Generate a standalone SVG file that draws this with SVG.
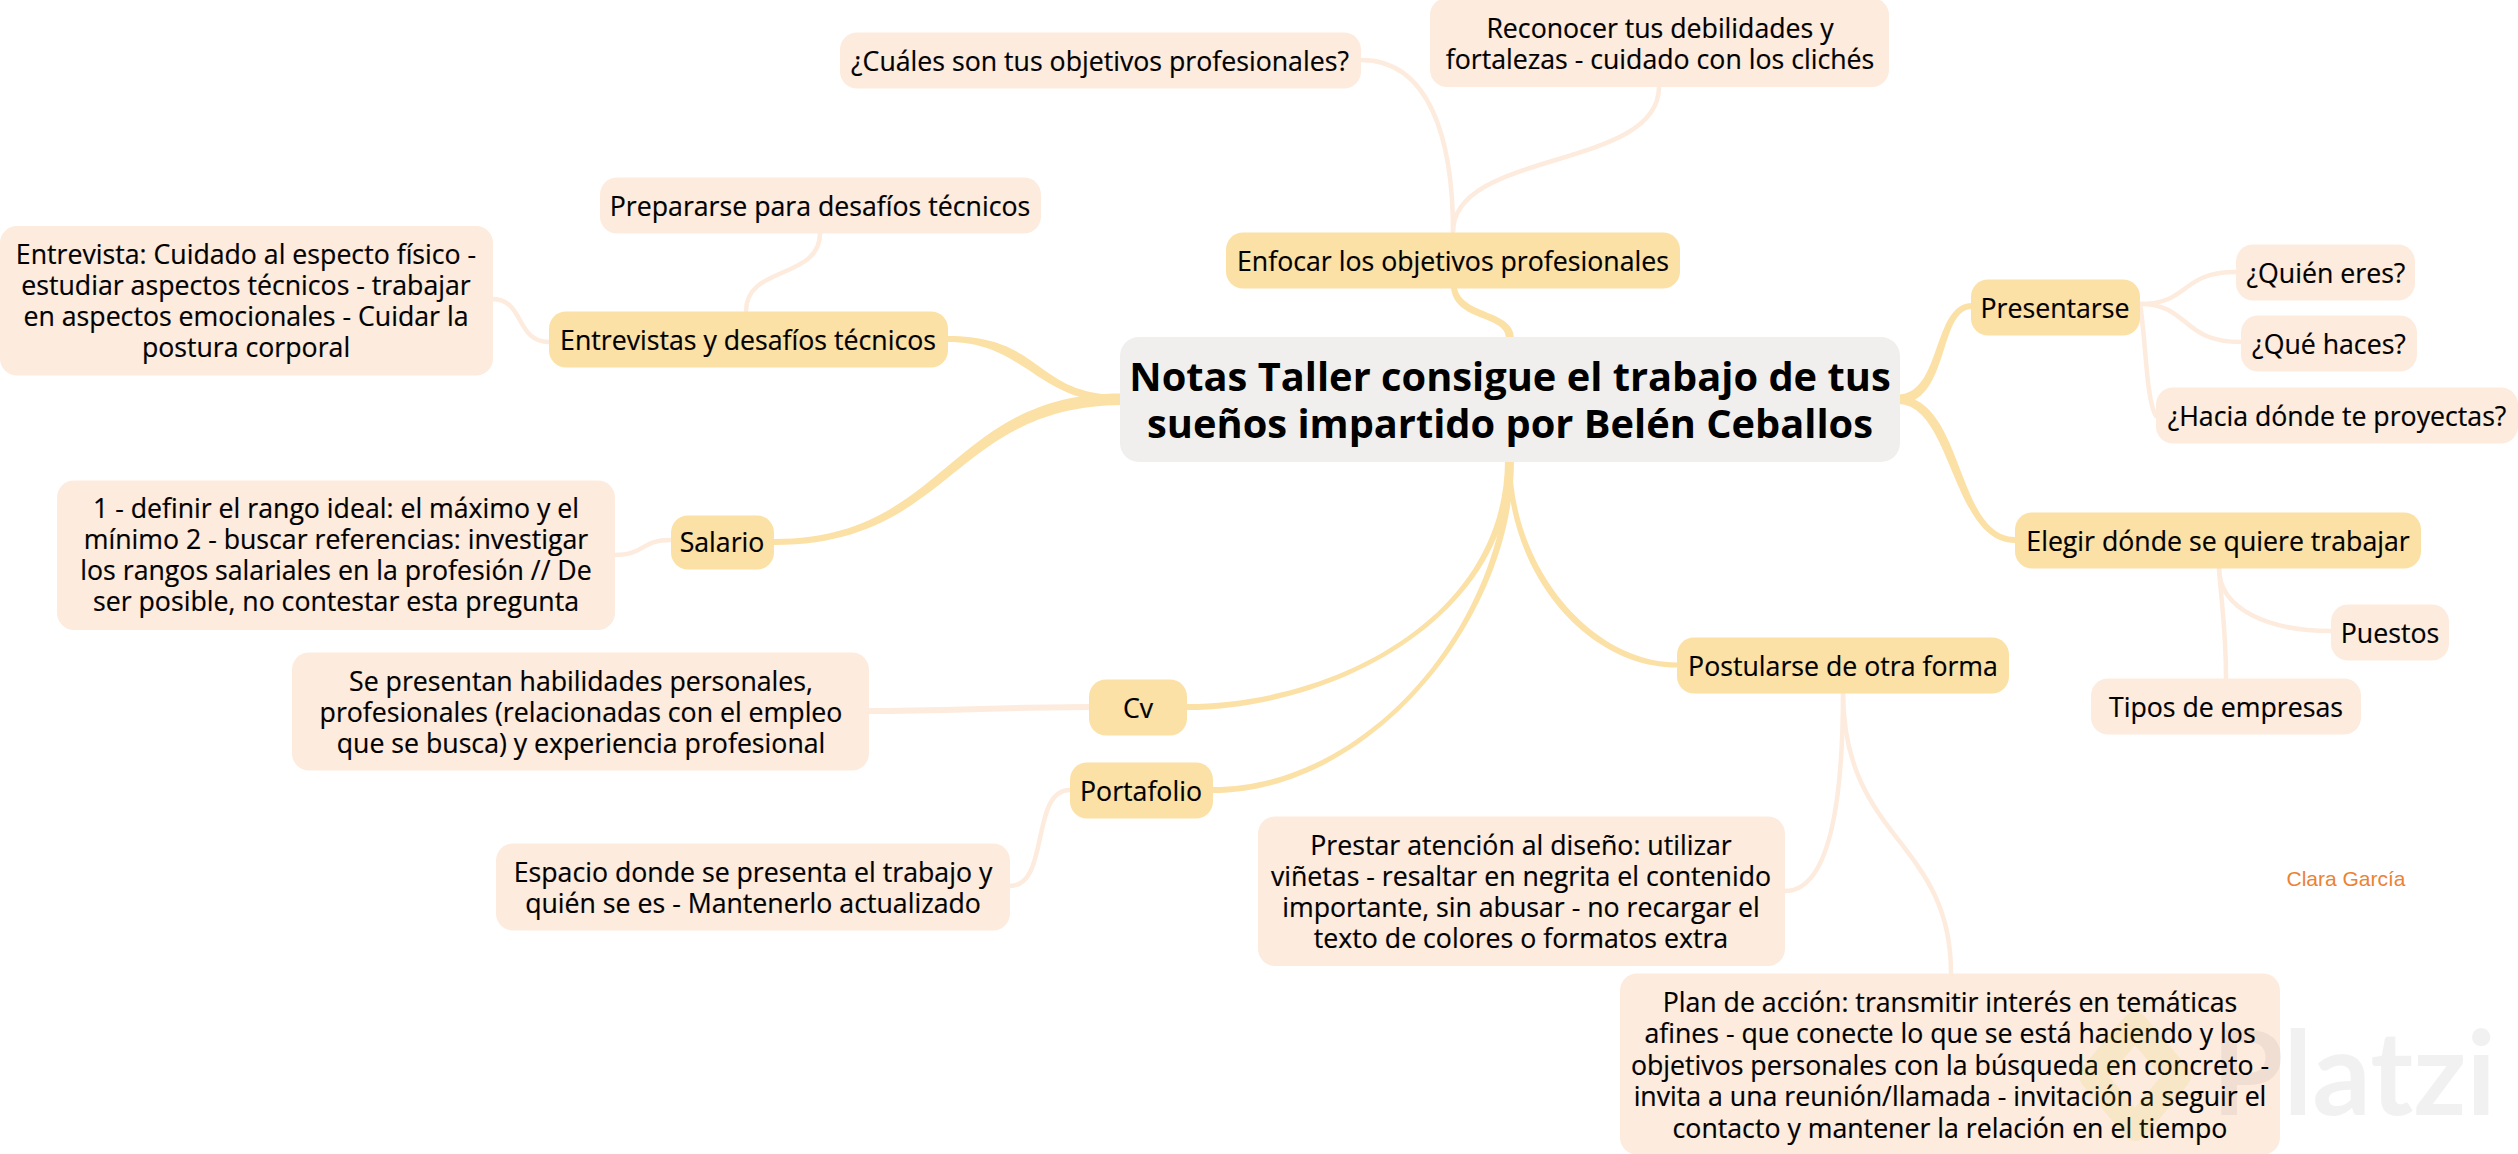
<svg xmlns="http://www.w3.org/2000/svg" width="2518" height="1154" viewBox="0 0 2518 1154">
<style>
.root{fill:#f0efed}.main{fill:#fce1a6}.sub{fill:#fdebde}
text{font-family:"Open Sans","Noto Sans",sans-serif;font-size:26.7px;fill:#000;stroke:#000;stroke-width:.2;text-anchor:middle}
.t{font-size:39.8px;font-weight:700;stroke:none}
.c1{fill:#fce1a6}
.c2{fill:none;stroke:#fdebde;stroke-width:4.5;stroke-linecap:round}
</style>
<rect width="2518" height="1154" fill="#fff"/>
<g id="connectors">
<path class="c1" d="M1506 338C1506 315 1455 322 1451 288L1457 288C1462 315 1514 310 1514 338Z"/>
<path class="c1" d="M1122 395C1034 395 1044 336 948 336L948 342C1026 342 1036 403 1122 403Z"/>
<path class="c1" d="M1122 393.500C948 393 948 539 774 539L774 545C952 545 952 406 1122 405Z"/>
<path class="c1" d="M1505 460C1505 620 1330 704 1187 704L1187 710C1330 710 1512 620 1512 460Z"/>
<path class="c1" d="M1507 460C1507 620 1370 787 1213 787L1213 793C1370 793 1514 620 1514 460Z"/>
<path class="c1" d="M1507 460C1507 575 1588 667.500 1677 667.500L1677 662.500C1592 662.500 1512 568 1512 460Z"/>
<path class="c1" d="M1898 394.500C1942 394 1932 303 1972 303L1972 309C1938 309 1950 404 1898 404Z"/>
<path class="c1" d="M1898 396C1964 396 1956 537 2015 537L2015 543C1952 543 1952 404 1898 404Z"/>
<path class="c2" d="M1453 232C1453 140 1430 60 1361 60"/>
<path class="c2" d="M1453 232C1453 150 1659 170 1659 87"/>
<path class="c2" d="M746 311C746 265 820 280 820 233"/>
<path class="c2" d="M549 342C515 342 525 299 492 299"/>
<path class="c2" d="M671 540C640 540 645 555 615 555"/>
<path class="c2" style="stroke-width:6" d="M1089 707C1020 707 940 711 869 711"/>
<path class="c2" d="M1070 790C1030 790 1050 886 1010 886"/>
<path class="c2" d="M1843 692C1843 800 1830 891 1785 891"/>
<path class="c2" d="M1843 692C1843 840 1951 840 1951 973"/>
<path class="c2" d="M2140 304C2190 304 2180 272 2236 272"/>
<path class="c2" d="M2140 304C2190 304 2180 342 2241 342"/>
<path class="c2" d="M2140 304C2146 340 2146 400 2156 416"/>
<path class="c2" d="M2219 568C2219 610 2270 631 2331 631"/>
<path class="c2" d="M2219 568C2222 610 2226 630 2226 678"/>
</g>
<g id="central"><rect class="root" x="1120" y="337" width="780" height="125" rx="19"/><text class="t" x="1510" y="391">Notas Taller consigue el trabajo de tus</text><text class="t" x="1510" y="438">sueños impartido por Belén Ceballos</text></g>
<g id="enfocar"><rect class="main" x="1226" y="232.500" width="454" height="56" rx="17"/><text x="1453" y="271">Enfocar los objetivos profesionales</text></g>
<g id="cuales"><rect class="sub" x="840" y="32.500" width="521" height="56" rx="17"/><text x="1100" y="71">¿Cuáles son tus objetivos profesionales?</text></g>
<g id="reconocer"><rect class="sub" x="1430" y="-2" width="459" height="89" rx="17"/><text x="1660" y="38">Reconocer tus debilidades y</text><text x="1660" y="69">fortalezas - cuidado con los clichés</text></g>
<g id="entrevistas"><rect class="main" x="549" y="311.500" width="399" height="56" rx="17"/><text x="748" y="350">Entrevistas y desafíos técnicos</text></g>
<g id="preparar"><rect class="sub" x="600" y="177.500" width="441" height="56" rx="17"/><text x="820" y="216">Prepararse para desafíos técnicos</text></g>
<g id="entrevista"><rect class="sub" x="0" y="226" width="493" height="149.500" rx="17"/><text x="246" y="264">Entrevista: Cuidado al especto físico -</text><text x="246" y="295">estudiar aspectos técnicos - trabajar</text><text x="246" y="326">en aspectos emocionales - Cuidar la</text><text x="246" y="357">postura corporal</text></g>
<g id="salario"><rect class="main" x="671" y="515.500" width="103" height="54" rx="17"/><text x="722" y="552">Salario</text></g>
<g id="rango"><rect class="sub" x="57" y="480.500" width="558" height="149.500" rx="17"/><text x="336" y="518">1 - definir el rango ideal: el máximo y el</text><text x="336" y="549">mínimo 2 - buscar referencias: investigar</text><text x="336" y="580">los rangos salariales en la profesión // De</text><text x="336" y="611">ser posible, no contestar esta pregunta</text></g>
<g id="cv"><rect class="main" x="1089" y="679.500" width="98" height="56" rx="17"/><text x="1138" y="718">Cv</text></g>
<g id="habilidades"><rect class="sub" x="292" y="652.500" width="577" height="118" rx="17"/><text x="581" y="690.500">Se presentan habilidades personales,</text><text x="581" y="721.500">profesionales (relacionadas con el empleo</text><text x="581" y="752.500">que se busca) y experiencia profesional</text></g>
<g id="portafolio"><rect class="main" x="1070" y="762.500" width="143" height="56" rx="17"/><text x="1141" y="801">Portafolio</text></g>
<g id="espacio"><rect class="sub" x="496" y="843.500" width="514" height="87" rx="17"/><text x="753" y="882">Espacio donde se presenta el trabajo y</text><text x="753" y="913">quién se es - Mantenerlo actualizado</text></g>
<g id="postularse"><rect class="main" x="1677" y="637.500" width="332" height="56" rx="17"/><text x="1843" y="676">Postularse de otra forma</text></g>
<g id="prestar"><rect class="sub" x="1258" y="816.500" width="527" height="149.500" rx="17"/><text x="1521" y="855">Prestar atención al diseño: utilizar</text><text x="1521" y="886">viñetas - resaltar en negrita el contenido</text><text x="1521" y="917">importante, sin abusar - no recargar el</text><text x="1521" y="948">texto de colores o formatos extra</text></g>
<g id="plan"><rect class="sub" x="1620" y="973.500" width="660" height="181" rx="17"/><text x="1950" y="1011.500">Plan de acción: transmitir interés en temáticas</text><text x="1950" y="1043">afines - que conecte lo que se está haciendo y los</text><text x="1950" y="1074.500">objetivos personales con la búsqueda en concreto -</text><text x="1950" y="1106">invita a una reunión/llamada - invitación a seguir el</text><text x="1950" y="1137.500">contacto y mantener la relación en el tiempo</text></g>
<g id="presentarse"><rect class="main" x="1971" y="279.500" width="169" height="56" rx="17"/><text x="2055" y="318">Presentarse</text></g>
<g id="quien"><rect class="sub" x="2236" y="244.500" width="179" height="56" rx="17"/><text x="2326" y="283">¿Quién eres?</text></g>
<g id="que"><rect class="sub" x="2241" y="315.500" width="176" height="56" rx="17"/><text x="2329" y="354">¿Qué haces?</text></g>
<g id="hacia"><rect class="sub" x="2156" y="387.500" width="362" height="56" rx="17"/><text x="2337" y="426">¿Hacia dónde te proyectas?</text></g>
<g id="elegir"><rect class="main" x="2015" y="512.500" width="406" height="56" rx="17"/><text x="2218" y="551">Elegir dónde se quiere trabajar</text></g>
<g id="puestos"><rect class="sub" x="2331" y="604.500" width="118" height="56" rx="17"/><text x="2390" y="643">Puestos</text></g>
<g id="tipos"><rect class="sub" x="2091" y="678.500" width="270" height="56" rx="17"/><text x="2226" y="717">Tipos de empresas</text></g>
<text x="2346" y="886" style="font-family:'Liberation Sans',Arial,sans-serif;font-size:21px;fill:#ec8232;stroke:none">Clara García</text>
<g id="watermark"><path d="M2135 1025L2178 1076L2135 1128L2092 1076Z" fill="none" stroke="#c8c800" stroke-opacity="0.1" stroke-width="26" stroke-linejoin="round"/><text x="2212" y="1115" textLength="284" lengthAdjust="spacingAndGlyphs" style="font-family:Lato,sans-serif;font-weight:700;font-size:116px;fill:#000;fill-opacity:0.055;stroke:none;text-anchor:start">Platzi</text></g>
</svg>
